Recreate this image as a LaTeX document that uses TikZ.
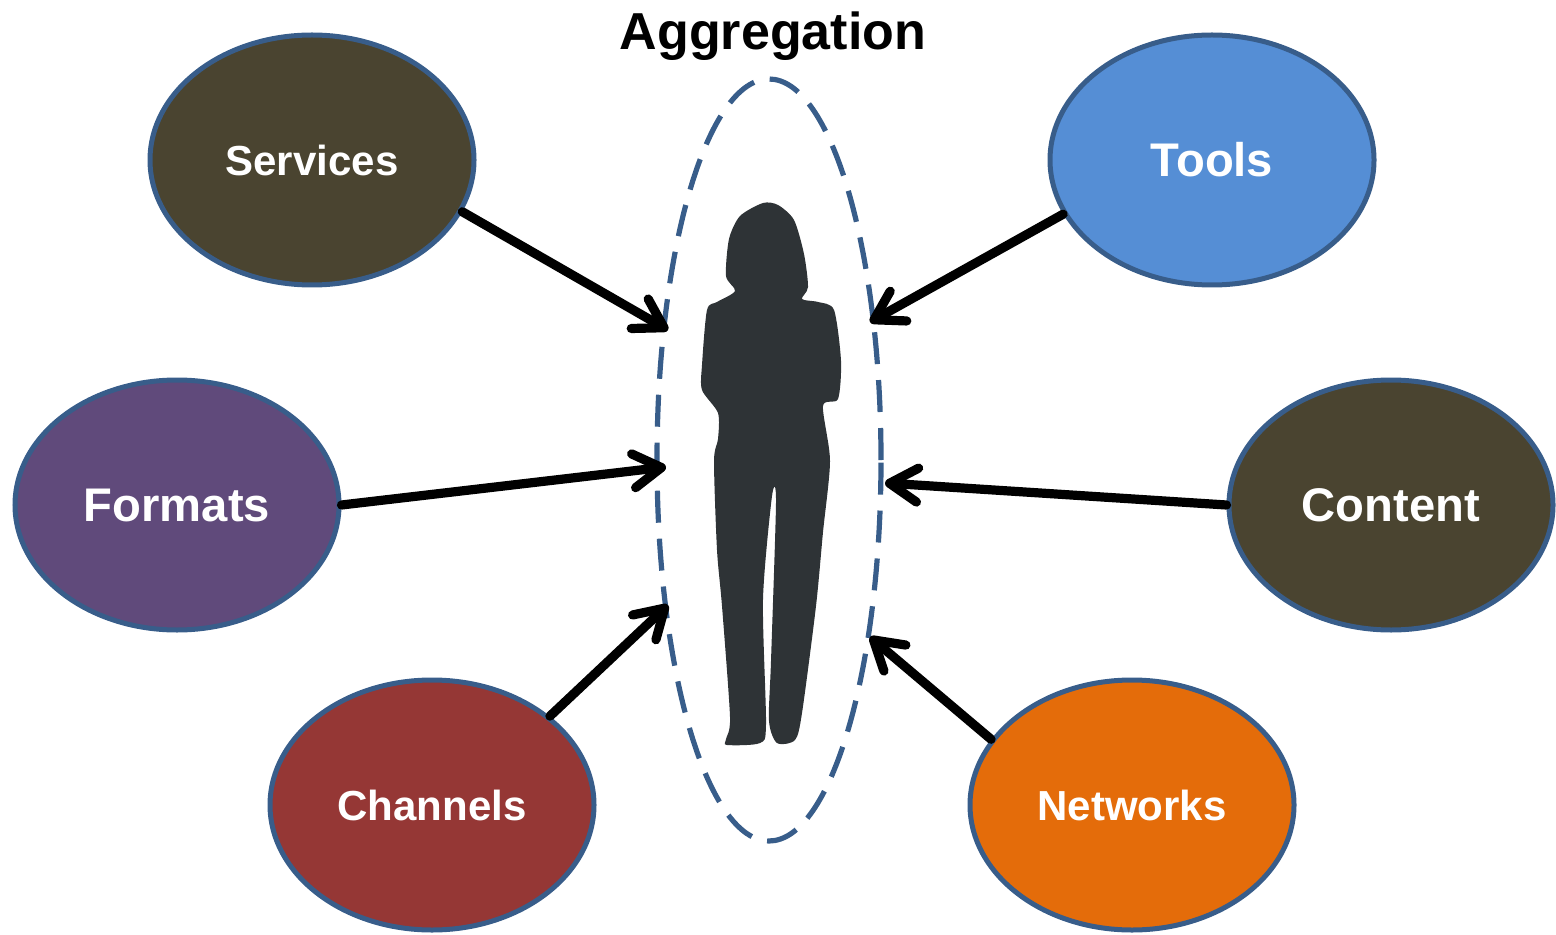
\documentclass[tikz,border=0pt]{standalone}
\usepackage{fontspec}
\setmainfont{Liberation Sans}
\usetikzlibrary{shapes.geometric,arrows.meta}
\definecolor{olive}{HTML}{4A4430}
\definecolor{toolblue}{HTML}{558ED5}
\definecolor{fmtpurple}{HTML}{604A7B}
\definecolor{chanred}{HTML}{953735}
\definecolor{netorange}{HTML}{E46C0A}
\definecolor{edgeblue}{HTML}{385D8A}
\definecolor{figgray}{HTML}{2E3336}
\tikzset{
  blob/.style={ellipse, draw=edgeblue, line width=2.5pt, inner sep=0pt,
    minimum width=162pt, minimum height=125pt, text=white},
  feed/.style={line width=4.6pt, line cap=round, line join=round,
    -{Straight Barb[length=14pt,width=17pt,line cap=round,line join=round]}},
  ring/.style={ellipse, draw=edgeblue, line width=2.6pt,
    dash pattern=on 16pt off 8pt, minimum width=112pt, minimum height=381pt}
}
\begin{document}
\begin{tikzpicture}[x=0.5pt,y=-0.5pt]
  \useasboundingbox (0,0) rectangle (1556,935);

  % the user in the middle
  \node[ring] (user) at (769,460) {};
  \fill[figgray] plot[smooth cycle, tension=0.45] coordinates {
    (763,203) (778,205) (794,220) (804,254) (808,287) (802,299)
    (818,302) (834,310) (841,361) (838,399) (823,406) (830,461)
    (823,532) (816,606) (802,713) (795,740) (777,743) (769,721)
    (771,661) (776,502) (772,496) (763,599) (766,724) (760,743)
    (727,745) (726,739) (730,717) (722,606) (717,550) (714,461)
    (718,439) (718,413) (702,390) (702,365) (707,310) (717,302)
    (735,291) (726,276) (729,239) (740,216)};
  \node[font=\bfseries\fontsize{26}{26}\selectfont] (title) at (773,36) {Aggregation};

  % sources
  \foreach \nm/\px/\py/\col/\fs/\txt in {
      svc/312/160/olive/21/Services, tools/1212/160/toolblue/23.6/Tools,
      fmt/177/505/fmtpurple/23.6/Formats, cont/1391/505/olive/23.6/Content,
      chan/432/805/chanred/21/Channels, net/1132/805/netorange/21/Networks} {
    \node[blob, fill=\col, font=\bfseries\fontsize{\fs}{\fs}\selectfont]
      (\nm) at (\px,\py) {\txt};
  }

  % arrows into the ring
  \foreach \nm/\ang/\tx/\ty in {
      svc/-19/668/330, tools/-160.5/870/322, fmt/0/666/467,
      cont/180/885/483, chan/37.5/668/605, net/155/870/637} {
    \coordinate (\nm-in) at (\tx,\ty);
    \draw[feed] (\nm.\ang) -- (\nm-in);
  }
\end{tikzpicture}
\end{document}
